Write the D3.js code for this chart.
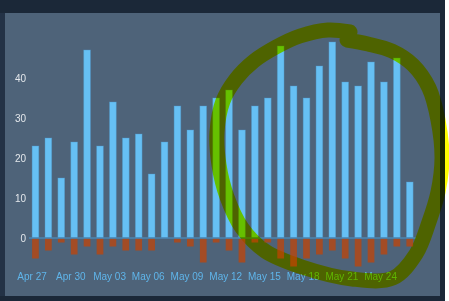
<!DOCTYPE html>
<html>
<head>
<meta charset="utf-8">
<script src="https://cdn.jsdelivr.net/npm/d3@7"></script>
<style>
  html, body { margin: 0; padding: 0; background: #ffffff; }
  svg { display: block; }
  text { font-family: "Liberation Sans", Arial, sans-serif; }
</style>
</head>
<body>
<div id="chart"></div>
<script>
  // days on the x axis
  var days = ["Apr 27", "Apr 28", "Apr 29", "Apr 30", "May 01", "May 02", "May 03", "May 04",
              "May 05", "May 06", "May 07", "May 08", "May 09", "May 10", "May 11", "May 12",
              "May 13", "May 14", "May 15", "May 16", "May 17", "May 18", "May 19", "May 20",
              "May 21", "May 22", "May 23", "May 24", "May 25", "May 26"];

  // positive values (blue) and negative values (red)
  var positive = [23, 25, 15, 24, 47, 23, 34, 25, 26, 16, 24, 33, 27, 33, 35,
                  37, 27, 33, 35, 48, 38, 35, 43, 49, 39, 38, 44, 39, 45, 14];
  var negative = [-5, -3, -1, -4, -2, -4, -2, -3, -3, -3, 0, -1, -2, -6, -1,
                  -3, -6, -1, -1, -5, -7, -5, -4, -3, -5, -7, -6, -4, -2, -2];

  var xTickLabels = ["Apr 27", "Apr 30", "May 03", "May 06", "May 09",
                     "May 12", "May 15", "May 18", "May 21", "May 24"];
  var yTickValues = [0, 10, 20, 30, 40];

  var W = 449, H = 301;

  var svg = d3.select("#chart").append("svg")
      .attr("width", W)
      .attr("height", H);

  // dark page behind the panel
  svg.append("rect").attr("x", 0).attr("y", 0).attr("width", 445).attr("height", H).attr("fill", "#1b2838");
  svg.append("rect").attr("x", 0).attr("y", 13).attr("width", 5).attr("height", 283).attr("fill", "#233246");
  svg.append("rect").attr("x", 5).attr("y", 13).attr("width", 435).attr("height", 283).attr("fill", "#4e6379");

  // scales
  var x = d3.scaleBand()
      .domain(days)
      .range([29, 416.2])
      .paddingInner(0.48)
      .paddingOuter(0.24);

  var y = d3.scaleLinear()
      .domain([0, 50])
      .range([238, 38]);

  // blue bars
  svg.append("g").selectAll("rect")
      .data(positive)
      .enter().append("rect")
      .attr("x", function(d, i) { return x(days[i]); })
      .attr("y", function(d) { return y(d); })
      .attr("width", x.bandwidth())
      .attr("height", function(d) { return y(0) - y(d); })
      .attr("fill", "#66c0f4")
      .attr("stroke", "#4f97c8")
      .attr("stroke-opacity", 0.5)
      .attr("stroke-width", 0.8);

  // red bars
  svg.append("g").selectAll("rect")
      .data(negative)
      .enter().append("rect")
      .attr("x", function(d, i) { return x(days[i]); })
      .attr("y", y(0) + 0.5)
      .attr("width", x.bandwidth())
      .attr("height", function(d) { return Math.max(0, y(d) - y(0)); })
      .attr("fill", "#a34c25");

  // zero line
  svg.append("line")
      .attr("x1", 29).attr("x2", 416)
      .attr("y1", y(0)).attr("y2", y(0))
      .attr("stroke", "#4a86b3")
      .attr("stroke-width", 1.6);

  // y axis labels
  var yAxis = svg.append("g")
      .attr("transform", "translate(26,0)")
      .call(d3.axisLeft(y).tickValues(yTickValues).tickSize(0).tickPadding(0));
  yAxis.select(".domain").remove();
  yAxis.selectAll("text")
      .attr("fill", "#e4e8ec")
      .attr("font-size", 10)
      .attr("font-family", "Liberation Sans, Arial, sans-serif");

  // x axis labels, centred on the left edge of the bar
  var xAxis = svg.append("g")
      .attr("transform", "translate(0,273)")
      .call(d3.axisBottom(x).tickValues(xTickLabels).tickSize(0).tickPadding(0));
  xAxis.select(".domain").remove();
  xAxis.selectAll(".tick").attr("transform", function(d) { return "translate(" + x(d) + ",0)"; });
  xAxis.selectAll("text")
      .attr("fill", "#5fb5ea")
      .attr("font-size", 10)
      .attr("font-family", "Liberation Sans, Arial, sans-serif");

  // hand drawn highlight loop (multiply with yellow)
  var loop = [[350, 32], [328, 30], [300, 36], [276, 47], [254, 61], [236, 79], [223, 101],
              [217, 132], [219, 165], [227, 197], [242, 228], [265, 251], [302, 267], [352, 279],
              [393, 278], [416, 254], [429, 222], [438, 192], [442, 158], [438, 120], [429, 88],
              [413, 65], [392, 51], [368, 44], [347, 40]];

  svg.append("path")
      .attr("d", d3.line().curve(d3.curveCatmullRom)(loop))
      .attr("fill", "none")
      .attr("stroke", "#ffff00")
      .attr("stroke-width", 15)
      .attr("stroke-linecap", "round")
      .attr("stroke-linejoin", "round")
      .style("mix-blend-mode", "multiply");
</script>
</body>
</html>
